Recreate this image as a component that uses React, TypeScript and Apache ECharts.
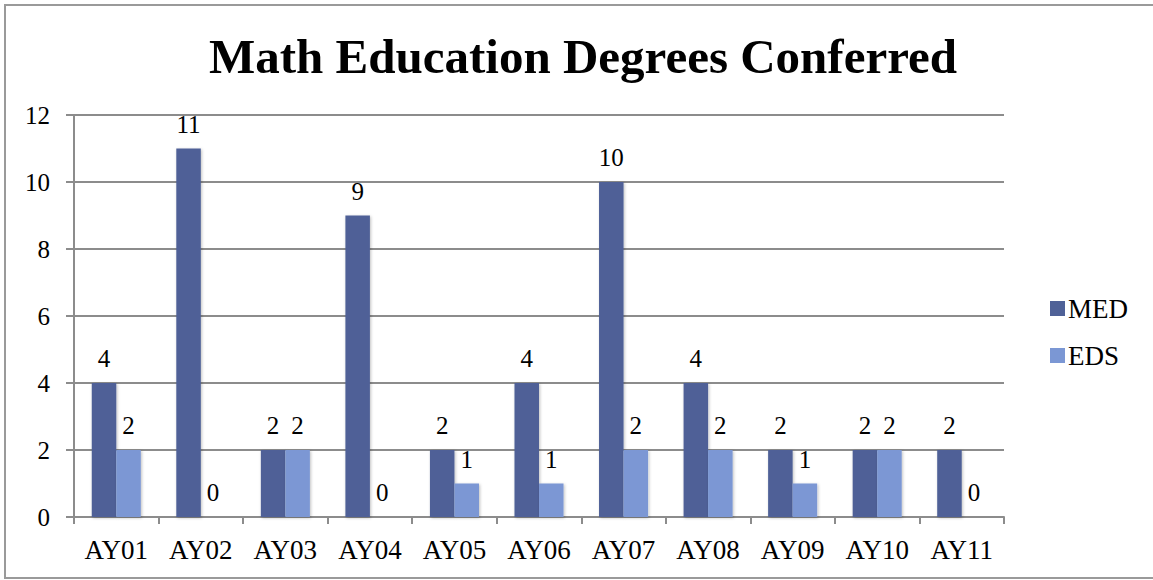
import React, { useEffect, useRef } from "react";
import * as echarts from "echarts";

const categories = ["AY01", "AY02", "AY03", "AY04", "AY05", "AY06", "AY07", "AY08", "AY09", "AY10", "AY11"];
const medValues = [4, 11, 2, 9, 2, 4, 10, 4, 2, 2, 2];
const edsValues = [2, 0, 2, 0, 1, 1, 2, 2, 1, 2, 0];
const seriesNames = ["MED", "EDS"];
const titleText = "Math Education Degrees Conferred";

const FONT = "Liberation Serif, Times New Roman, serif";

export default function App() {
  const ref = useRef<HTMLDivElement>(null);
  useEffect(() => {
    if (!ref.current) return;
    const chart = echarts.init(ref.current, null, { renderer: "svg" });
    const gray = "#8c8c8c";
    const barShadow = {
      shadowBlur: 3,
      shadowColor: "rgba(0,0,0,0.25)",
      shadowOffsetX: 1,
      shadowOffsetY: 1,
    };
    const label = {
      show: true,
      position: "top" as const,
      distance: 12,
      fontFamily: FONT,
      fontWeight: "normal" as const,
      fontSize: 25,
      color: "#000",
    };
    chart.setOption({
      animation: false,
      backgroundColor: "#fff",
      textStyle: { fontFamily: FONT },
      graphic: [
        {
          type: "rect",
          shape: { x: 5, y: 5, width: 1170, height: 573 },
          style: { fill: "none", stroke: "#9a9a9a", lineWidth: 2 },
          z: -10,
        },
      ],
      title: {
        text: titleText,
        left: 578,
        textAlign: "center",
        top: 27,
        textStyle: { fontFamily: FONT, fontWeight: "bold", fontSize: 49, color: "#000" },
      },
      legend: {
        orient: "vertical",
        left: 1045,
        top: 290,
        itemWidth: 15,
        itemHeight: 15,
        itemGap: 20,
        icon: "rect",
        textStyle: { fontFamily: FONT, fontSize: 27, color: "#000", padding: [0, 0, 0, -2] },
        data: seriesNames,
      },
      grid: { left: 74, right: 149, top: 115, bottom: 63 },
      xAxis: {
        type: "category",
        data: categories,
        axisLine: { lineStyle: { color: gray, width: 2 } },
        axisTick: { show: true, length: 7, lineStyle: { color: gray, width: 2 } },
        axisLabel: { fontFamily: FONT, fontSize: 27, color: "#000", margin: 19 },
      },
      yAxis: {
        type: "value",
        min: 0,
        max: 12,
        interval: 2,
        axisLine: { show: true, lineStyle: { color: gray, width: 2 } },
        axisTick: { show: true, length: 8, lineStyle: { color: gray, width: 2 } },
        splitLine: { lineStyle: { color: gray, width: 2 } },
        axisLabel: { fontFamily: FONT, fontSize: 25, color: "#000", margin: 24 },
      },
      series: [
        {
          name: seriesNames[0],
          type: "bar",
          data: medValues,
          barGap: "0%",
          barCategoryGap: "42%",
          itemStyle: { color: "#4f6197", ...barShadow },
          label,
        },
        {
          name: seriesNames[1],
          type: "bar",
          data: edsValues,
          itemStyle: { color: "#7b97d4", ...barShadow },
          label,
        },
      ],
    });
    return () => chart.dispose();
  }, []);
  return (
    <div
      ref={ref}
      style={{ position: "absolute", left: 0, top: 0, width: 1153, height: 580 }}
    />
  );
}
